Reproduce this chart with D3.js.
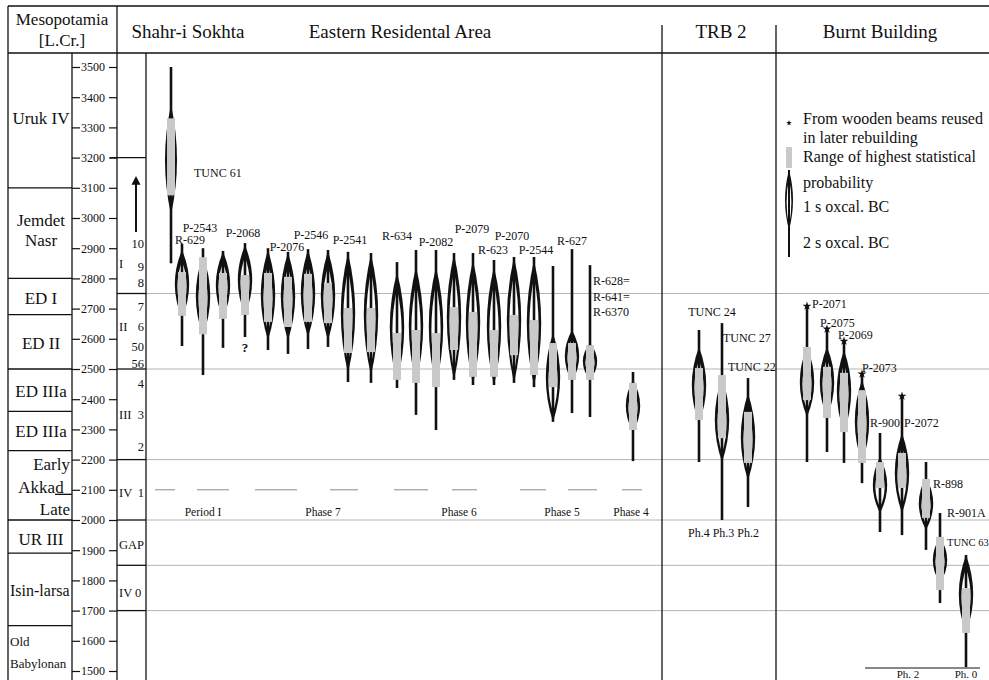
<!DOCTYPE html>
<html>
<head>
<meta charset="utf-8">
<script src="https://cdn.jsdelivr.net/npm/d3@7"></script>
<style>
  body { margin: 0; background: #fff; }
  svg { display: block; font-family: "Liberation Serif", "Times New Roman", serif; }
  svg text { font-family: "Liberation Serif", "Times New Roman", serif; }
</style>
</head>
<body>
<svg id="chart" width="989" height="680"></svg>
<script>
// ---- data (years BC) ----
// horizontal slot of each sample, left to right
const samplePos = [1.25, 1.8, 2.85, 3.85, 4.95, 6.1, 7.1, 8.1, 9.1, 10.1, 11.25, 12.55, 13.5, 14.5,
  15.4, 16.35, 17.4, 18.4, 19.4, 20.35, 21.3, 22.2, 24.35,
  27.65, 28.8, 30.1,
  33.05, 34.05, 34.9, 35.8, 36.7, 37.8, 39.0, 39.7, 41.0];
// 2 sigma range [from, to]
const sigma2 = [[3500, 2850], [2914, 2576], [2900, 2480], [2891, 2570], [2917, 2606], [2900, 2563], [2888, 2550],
  [2897, 2566], [2894, 2573], [2888, 2457], [2884, 2454], [2854, 2437], [2894, 2348], [2894, 2298],
  [2884, 2464], [2884, 2447], [2861, 2447], [2871, 2454], [2871, 2440], [2841, 2325], [2897, 2354],
  [2844, 2341], [2490, 2195],
  [2629, 2192], [2652, 2000], [2470, 2043],
  [2705, 2192], [2629, 2225], [2589, 2189], [2480, 2122], [2288, 1960], [2407, 1950], [2192, 1901],
  [2023, 1725], [1884, 1513]];
// 1 sigma range
const sigma1 = [[3375, 3010], [2894, 2669], [2875, 2610], [2888, 2669], [2910, 2679], [2894, 2596], [2885, 2596],
  [2894, 2606], [2890, 2596], [2884, 2487], [2880, 2480], [2821, 2457], [2838, 2454], [2838, 2447],
  [2880, 2464], [2860, 2450], [2838, 2447], [2871, 2454], [2860, 2445], [2619, 2325], [2629, 2457],
  [2586, 2464], [2464, 2291],
  [2573, 2321], [2473, 2192], [2420, 2132],
  [2573, 2341], [2573, 2341], [2563, 2291], [2464, 2189], [2209, 2023], [2288, 2023], [2142, 1967],
  [1944, 1791], [1884, 1626]];
// range of highest statistical probability
const highProb = [[3330, 3075], [2821, 2676], [2870, 2615], [2818, 2666], [2811, 2679], [2818, 2656], [2805, 2639],
  [2815, 2656], [2785, 2652], [2702, 2553], [2702, 2556], [2619, 2464], [2629, 2454], [2619, 2440],
  [2705, 2563], [2689, 2474], [2629, 2474], [2679, 2546], [2662, 2480], [2586, 2440], [2586, 2464],
  [2579, 2464], [2454, 2298],
  [2503, 2331], [2480, 2271], [2358, 2189],
  [2573, 2397], [2507, 2338], [2487, 2291], [2430, 2189], [2192, 2106], [2222, 2106], [2136, 2007],
  [1944, 1768], [1775, 1626]];
// samples from reused wooden beams (marked with a star)
const reusedBeams = [26, 27, 28, 29, 31];

// sample labels: [text, slot, year, anchor]
const sampleLabels = [
  ["TUNC 61", 2.4, 3149, "start"], ["R-629", 2.2, 2927, "middle"], ["P-2543", 2.7, 2968, "middle"],
  ["P-2068", 4.85, 2950, "middle"], ["P-2076", 7.05, 2904, "middle"], ["P-2546", 8.25, 2944, "middle"],
  ["P-2541", 10.2, 2927, "middle"], ["R-634", 12.55, 2940, "middle"], ["P-2082", 14.5, 2921, "middle"],
  ["P-2079", 16.3, 2964, "middle"], ["R-623", 17.35, 2894, "middle"], ["P-2070", 18.3, 2940, "middle"],
  ["P-2544", 19.5, 2894, "middle"], ["R-627", 21.3, 2924, "middle"],
  ["R-628=", 22.35, 2791, "start"], ["R-641=", 22.35, 2738, "start"], ["R-6370", 22.35, 2689, "start"],
  ["?", 4.95, 2573, "middle"],
  ["TUNC 24", 28.3, 2689, "middle"], ["TUNC 27", 28.85, 2603, "start"], ["TUNC 22", 29.1, 2507, "start"],
  ["Ph.4 Ph.3 Ph.2", 27.1, 1957, "start"],
  ["P-2071", 33.3, 2715, "start"], ["P-2075", 33.7, 2652, "start"], ["P-2069", 34.6, 2613, "start"],
  ["P-2073", 35.8, 2503, "start"], ["R-900", 36.2, 2321, "start"], ["P-2072", 37.9, 2321, "start"],
  ["R-898", 39.35, 2119, "start"], ["R-901A", 40.05, 2023, "start"], ["TUNC 63", 40.05, 1927, "start"]
];

// phase markers at 2100 BC: [fromSlot, toSlot]
const phaseDashes = [[0.45, 1.45], [2.55, 4.15], [5.45, 7.55], [9.2, 10.6], [12.4, 14.1],
  [15.3, 16.55], [18.7, 20], [21.1, 22.55], [23.8, 24.8]];
const phaseLabels = [["Period I", 2.85], ["Phase 7", 8.85], ["Phase 6", 15.65], ["Phase 5", 20.8], ["Phase 4", 24.25]];

// Mesopotamian periods
const periodBounds = [3100, 2800, 2680, 2500, 2360, 2230, 2000, 1890, 1650];
const periodLabels = [
  ["Uruk IV", 3331, "m"], ["Jemdet", 2993, "m"], ["Nasr", 2927, "m"], ["ED I", 2735, "m"],
  ["ED II", 2586, "m"], ["ED IIIa", 2427, "m"], ["ED IIIa", 2295, "m"], ["Early", 2185, "r"],
  ["Akkad", 2109, "m"], ["Late", 2036, "r"], ["UR III", 1937, "m"], ["Isin-larsa", 1768, "l"],
  ["Old", 1599, "l"], ["Babylonan", 1526, "l"]
];

// Shahr-i Sokhta periods / phases
const sokhtaBounds = [3200, 2750, 2500, 2200, 2000, 1850, 1700];
const sokhtaLabels = [
  ["10", 2914, "r"], ["I", 2848, "l"], ["9", 2838, "r"], ["8", 2785, "r"], ["7", 2705, "r"],
  ["II", 2639, "l"], ["6", 2639, "r"], ["50", 2573, "r"], ["56", 2517, "r"], ["4", 2450, "r"],
  ["III", 2348, "l"], ["3", 2348, "r"], ["2", 2242, "r"], ["IV", 2089, "l"], ["1", 2089, "r"],
  ["GAP", 1917, "m"], ["IV 0", 1758, "l"]
];
const gridYears = [2750, 2500, 2200, 2000, 1850, 1700];
const tickYears = d3.range(1500, 3501, 100);

// ---- scales ----
const W = 989, H = 680;
const x = d3.scaleLinear().domain([0, 42.15]).range([146, 989]);
const y = d3.scaleLinear().domain([3500, 1500]).range([67, 671]);

const svg = d3.select('#chart');
const ink = '#111';

// grid lines across the plot
svg.append('g')
  .selectAll('line')
  .data(gridYears)
  .join('line')
  .attr('x1', 146).attr('x2', W)
  .attr('y1', d => y(d)).attr('y2', d => y(d))
  .attr('stroke', '#b4b4b4').attr('stroke-width', 1);

// frame
const frame = svg.append('g').attr('stroke', ink).attr('stroke-width', 1.3);
frame.append('line').attr('x1', 8).attr('x2', W).attr('y1', 6).attr('y2', 6);
frame.append('line').attr('x1', 8).attr('x2', W).attr('y1', 53).attr('y2', 53);
frame.append('line').attr('x1', 8).attr('x2', 8).attr('y1', 6).attr('y2', H);
frame.append('line').attr('x1', 72).attr('x2', 72).attr('y1', 53).attr('y2', H);
frame.append('line').attr('x1', 117).attr('x2', 117).attr('y1', 6).attr('y2', H);
frame.append('line').attr('x1', 146).attr('x2', 146).attr('y1', 53).attr('y2', H);
frame.append('line').attr('x1', 662).attr('x2', 662).attr('y1', 25).attr('y2', H);
frame.append('line').attr('x1', 776).attr('x2', 776).attr('y1', 25).attr('y2', H);

// headers
const head = svg.append('g').attr('fill', ink).attr('text-anchor', 'middle');
head.append('text').attr('x', 62).attr('y', 25).attr('font-size', 17).text('Mesopotamia');
head.append('text').attr('x', 62).attr('y', 46).attr('font-size', 17).text('[L.Cr.]');
head.append('text').attr('x', 188).attr('y', 38).attr('font-size', 19).text('Shahr-i Sokhta');
head.append('text').attr('x', 400).attr('y', 38).attr('font-size', 19).text('Eastern Residental Area');
head.append('text').attr('x', 721).attr('y', 38).attr('font-size', 19).text('TRB 2');
head.append('text').attr('x', 880).attr('y', 38).attr('font-size', 19).text('Burnt Building');

// period column
svg.append('g')
  .selectAll('line')
  .data(periodBounds)
  .join('line')
  .attr('x1', 8).attr('x2', 72)
  .attr('y1', d => y(d)).attr('y2', d => y(d))
  .attr('stroke', ink).attr('stroke-width', 1.3);
svg.append('line')
  .attr('x1', 55).attr('x2', 72).attr('y1', y(2085)).attr('y2', y(2085))
  .attr('stroke', ink).attr('stroke-width', 1.3);
svg.append('g')
  .selectAll('text')
  .data(periodLabels)
  .join('text')
  .attr('x', d => d[2] === 'l' ? 10 : d[2] === 'r' ? 70 : 41)
  .attr('y', d => y(d[1]))
  .attr('dy', '0.35em')
  .attr('text-anchor', d => d[2] === 'l' ? 'start' : d[2] === 'r' ? 'end' : 'middle')
  .attr('font-size', d => d[0] === 'Old' || d[0] === 'Babylonan' ? 13 : d[0] === 'Isin-larsa' ? 16 : 17)
  .attr('fill', ink)
  .text(d => d[0]);

// year axis: dashes on both sides of the labels
const axL = svg.append('g').attr('transform', 'translate(72,0)')
  .call(d3.axisRight(y).tickValues(tickYears).tickSize(8).tickPadding(1).tickFormat(d3.format('d')));
const axR = svg.append('g').attr('transform', 'translate(117,0)')
  .call(d3.axisLeft(y).tickValues(tickYears).tickSize(8).tickFormat(''));
[axL, axR].forEach(a => {
  a.attr('font-family', null).attr('font-size', null);
  a.select('.domain').remove();
  a.selectAll('line').attr('stroke', ink).attr('stroke-width', 1.2);
});
axL.selectAll('text').attr('font-size', 12).attr('fill', ink);

// Shahr-i Sokhta column
svg.append('g')
  .selectAll('line')
  .data(sokhtaBounds)
  .join('line')
  .attr('x1', d => d === 3200 ? 110 : 117).attr('x2', 146)
  .attr('y1', d => y(d)).attr('y2', d => y(d))
  .attr('stroke', ink).attr('stroke-width', 1.3);
svg.append('g')
  .selectAll('text')
  .data(sokhtaLabels)
  .join('text')
  .attr('x', d => d[2] === 'l' ? 119 : d[2] === 'r' ? 144 : 131.5)
  .attr('y', d => y(d[1]))
  .attr('dy', '0.35em')
  .attr('text-anchor', d => d[2] === 'l' ? 'start' : d[2] === 'r' ? 'end' : 'middle')
  .attr('font-size', 12.5)
  .attr('fill', ink)
  .text(d => d[0]);
// arrow
svg.append('line')
  .attr('x1', 136).attr('x2', 136).attr('y1', y(2954)).attr('y2', y(3125))
  .attr('stroke', ink).attr('stroke-width', 2);
svg.append('path')
  .attr('d', `M136,${y(3139)}L131.5,${y(3110)}L140.5,${y(3110)}Z`)
  .attr('fill', ink);

// phase dashes and labels
svg.append('g')
  .selectAll('line')
  .data(phaseDashes)
  .join('line')
  .attr('x1', d => x(d[0])).attr('x2', d => x(d[1]))
  .attr('y1', y(2100)).attr('y2', y(2100))
  .attr('stroke', '#8a8a8a').attr('stroke-width', 1);
svg.append('g')
  .selectAll('text')
  .data(phaseLabels)
  .join('text')
  .attr('x', d => x(d[1])).attr('y', y(2028))
  .attr('dy', '0.35em')
  .attr('text-anchor', 'middle')
  .attr('font-size', 11.5)
  .attr('fill', ink)
  .text(d => d[0]);

// ---- samples ----
function lens(cx, y0, y1, hw) {
  const m = (y0 + y1) / 2;
  return `M${cx},${y0}Q${cx + 2 * hw},${m} ${cx},${y1}Q${cx - 2 * hw},${m} ${cx},${y0}Z`;
}
function drawSample(g, cx, s2, s1, hp, hw) {
  const t = s1[0], b = s1[1], h = b - t;
  g.append('path').attr('d', lens(cx, t, b, hw)).attr('fill', ink);
  const ti = Math.min(h * 0.17, 17), bi = Math.min(h * 0.1, 10);
  g.append('path').attr('d', lens(cx, t + ti, b - bi, hw * 0.64)).attr('fill', '#fff');
  g.append('line')
    .attr('x1', cx).attr('x2', cx).attr('y1', s2[0]).attr('y2', s2[1])
    .attr('stroke', ink).attr('stroke-width', 2.6);
  g.append('rect')
    .attr('x', cx - 4).attr('width', 8)
    .attr('y', hp[0]).attr('height', hp[1] - hp[0])
    .attr('fill', '#c9c9c9');
}

const samples = samplePos.map((p, i) => ({
  pos: p, s2: sigma2[i], s1: sigma1[i], hp: highProb[i], star: reusedBeams.includes(i), i
}));

svg.append('g')
  .selectAll('g')
  .data(samples)
  .join('g')
  .each(function (d) {
    drawSample(d3.select(this), x(d.pos),
      d.s2.map(y), d.s1.map(y), d.hp.map(y), d.i === 0 ? 6 : 7.2);
  });

// stars for reused beams
svg.append('g')
  .selectAll('path')
  .data(samples.filter(d => d.star))
  .join('path')
  .attr('transform', d => `translate(${x(d.pos)},${y(d.s2[0]) - 1})`)
  .attr('d', d3.symbol(d3.symbolStar).size(24))
  .attr('fill', ink);

// labels
svg.append('g')
  .selectAll('text')
  .data(sampleLabels)
  .join('text')
  .attr('x', d => x(d[1]))
  .attr('y', d => y(d[2]))
  .attr('dy', '0.35em')
  .attr('text-anchor', d => d[3])
  .attr('font-size', d => d[0] === 'TUNC 63' ? 10.5 : d[0] === '?' ? 13 : 12)
  .attr('font-weight', d => d[0] === '?' ? 'bold' : null)
  .attr('fill', ink)
  .text(d => d[0]);

// Burnt Building phase bar
svg.append('line')
  .attr('x1', x(35.95)).attr('x2', x(41.7)).attr('y1', y(1510)).attr('y2', y(1510))
  .attr('stroke', ink).attr('stroke-width', 1.2);
svg.append('g')
  .selectAll('text')
  .data([["Ph. 2", 38.1], ["Ph. 0", 41.0]])
  .join('text')
  .attr('x', d => x(d[1])).attr('y', y(1491))
  .attr('dy', '0.35em')
  .attr('text-anchor', 'middle')
  .attr('font-size', 11)
  .attr('fill', ink)
  .text(d => d[0]);

// ---- legend ----
const leg = svg.append('g').attr('fill', ink).attr('font-size', 16);
leg.append('path').attr('transform', 'translate(789,123)')
  .attr('d', d3.symbol(d3.symbolStar).size(10));
leg.append('rect').attr('x', 786).attr('y', 147).attr('width', 6).attr('height', 21).attr('fill', '#c9c9c9');
leg.append('path').attr('d', lens(789, 170, 230, 4)).attr('fill', ink);
leg.append('path').attr('d', lens(789, 178, 226, 2.4)).attr('fill', '#fff');
leg.append('line').attr('x1', 789).attr('x2', 789).attr('y1', 170).attr('y2', 257)
  .attr('stroke', ink).attr('stroke-width', 2);
[["From wooden beams reused", 124], ["in later rebuilding", 143], ["Range of highest statistical", 162],
 ["probability", 188], ["1 s oxcal. BC", 212], ["2 s oxcal. BC", 248]].forEach(([t, ty]) => {
  leg.append('text').attr('x', 803).attr('y', ty).text(t);
});
</script>
</body>
</html>
